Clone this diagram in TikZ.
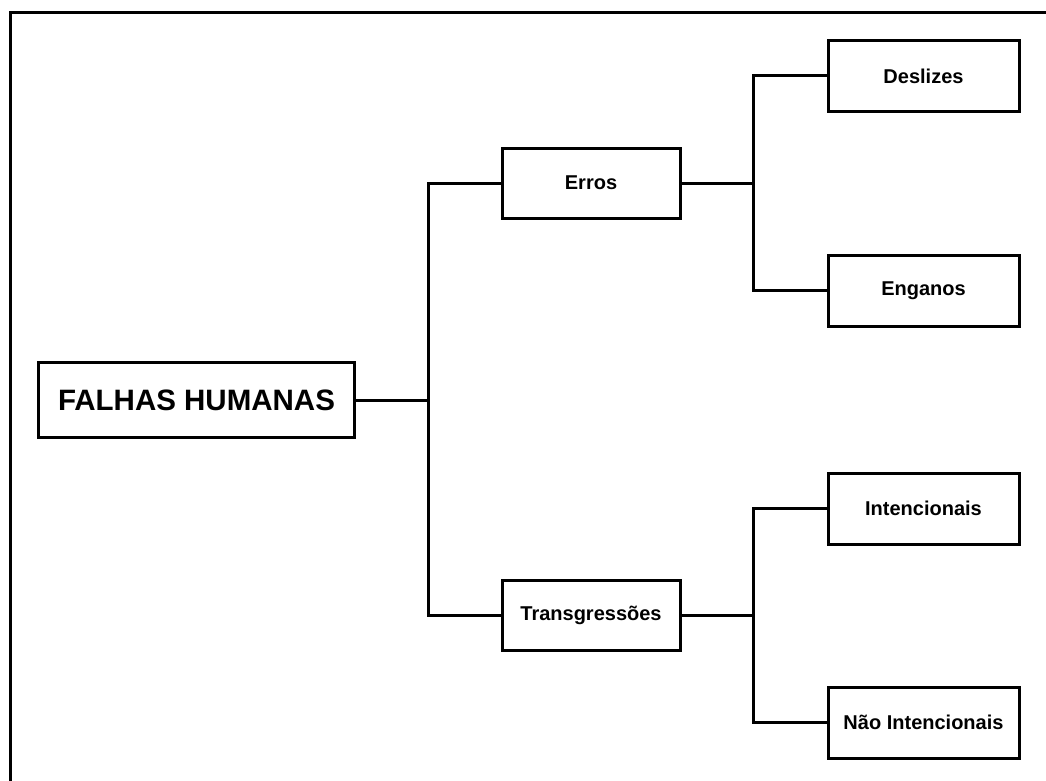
\documentclass[tikz,border=0pt]{standalone}
\usepackage{fontspec}
\setmainfont{Liberation Sans}
\begin{document}
\begin{tikzpicture}[x=1pt,y=-1pt,
  box/.style={draw,line width=3pt,minimum width=178pt,minimum height=70pt,inner sep=0pt,font=\fontsize{20}{23}\selectfont\bfseries},
  leaf/.style={box,minimum width=191pt,minimum height=71pt},
  root/.style={box,minimum width=316pt,minimum height=75pt,font=\fontsize{29.5}{33}\selectfont\bfseries},
  link/.style={line width=3pt}]
\useasboundingbox (0,0) rectangle (1046,781);
\draw[line width=3pt] (10,800) -- (10,13) -- (1060,13);
\node[root] (root) at (196.5,400) {FALHAS HUMANAS};
\node[box] (erros) at (591,183) {Erros};
\node[box] (trans) at (591,615) {Transgressões};
\node[leaf] (desl) at (923.5,76) {Deslizes};
\node[leaf] (eng) at (923.5,290.5) {Enganos};
\node[leaf] (int) at (923.5,508.5) {Intencionais};
\node[leaf] (nint) at (923.5,722.5) {Não Intencionais};
\coordinate (j1) at (428,400);
\coordinate (j2) at (753,183);
\coordinate (j3) at (753,615);
\draw[link] (root.east) -- (j1);
\draw[link] (erros.west) -- (j1 |- erros.west) -- (j1 |- trans.west) -- (trans.west);
\draw[link] (erros.east) -- (j2);
\draw[link] (desl.west) -- (j2 |- desl.west) -- (j2 |- eng.west) -- (eng.west);
\draw[link] (trans.east) -- (j3);
\draw[link] (int.west) -- (j3 |- int.west) -- (j3 |- nint.west) -- (nint.west);
\end{tikzpicture}
\end{document}
